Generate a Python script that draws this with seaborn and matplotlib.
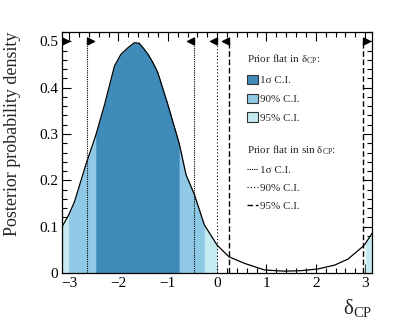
import numpy as np
import matplotlib
matplotlib.use("Agg")
import matplotlib.pyplot as plt
from matplotlib.lines import Line2D
from matplotlib.patches import Patch
from matplotlib.ticker import MultipleLocator, FuncFormatter
import seaborn as sns

# posterior curve (boundary points included)
dcp = [-3.1416, -3.01, -2.89, -2.66, -2.46, -2.28, -2.08, -1.95, -1.81, -1.68,
       -1.58, -1.50, -1.40, -1.30, -1.20, -1.00, -0.77, -0.63, -0.46, -0.26,
       0.00, 0.24, 0.55, 0.96, 1.36, 1.70, 2.04, 2.38, 2.65, 2.95, 3.00, 3.1416]
post = [0.100, 0.125, 0.154, 0.234, 0.297, 0.364, 0.447, 0.472, 0.486, 0.497,
        0.496, 0.486, 0.472, 0.454, 0.432, 0.364, 0.280, 0.212, 0.169, 0.104,
        0.060, 0.035, 0.021, 0.0065, 0.004, 0.005, 0.0087, 0.017, 0.030, 0.057,
        0.063, 0.086]

# credible intervals, prior flat in delta_CP
ci_1s = [(-2.46, -0.77)]
ci_90 = [(-3.01, -0.26)]
ci_95 = [(-3.1416, 0.00), (3.00, 3.1416)]

# credible intervals, prior flat in sin(delta_CP): lower / upper edges
sin_levels = ["1σ", "90%", "95%"]
sin_lo = [-2.63, -3.1416, 2.95]
sin_hi = [-0.46, 0.00, 0.24]

col_1s, col_90, col_95 = "#3f8bba", "#8fc9e6", "#c5ebf0"
sin_styles = [(0, (1, 1)), (0, (1, 2)), (0, (4, 2))]

sns.set_theme(style="ticks")
plt.rcParams["font.family"] = ["Liberation Serif", "DejaVu Serif"]
plt.rcParams["mathtext.fontset"] = "custom"
plt.rcParams["mathtext.rm"] = "Liberation Serif"
plt.rcParams["mathtext.it"] = "Liberation Serif:italic"

x = np.array(dcp)
y = np.array(post)

fig = plt.figure(figsize=(4.14, 3.21), dpi=100)
ax = fig.add_axes([0.150, 0.1495, 0.749, 0.7505])

for regions, c in [(ci_95, col_95), (ci_90, col_90), (ci_1s, col_1s)]:
    for lo, hi in regions:
        m = (x >= lo - 1e-9) & (x <= hi + 1e-9)
        ax.fill_between(x, 0, y, where=m, color=c, linewidth=0)

sns.lineplot(x=x, y=y, ax=ax, color="black", linewidth=0.9, sort=False)

right_tri = [(0, -1), (0, 1), (2, 0), (0, -1)]
left_tri = [(0, -1), (0, 1), (-2, 0), (0, -1)]
for lvl, lo, hi, ls in zip(sin_levels, sin_lo, sin_hi, sin_styles):
    lw = 1.0 if lvl == "95%" else 0.8
    ax.vlines([lo, hi], 0, 0.5, colors="black", linestyles=[ls], linewidth=lw)
    ax.plot([lo], [0.5], marker=right_tri, color="black", markersize=10,
            linestyle="none")
    ax.plot([hi], [0.5], marker=left_tri, color="black", markersize=10,
            linestyle="none")

ax.set_xlim(-np.pi, np.pi)
ax.set_ylim(0, 0.52)
ax.xaxis.set_major_locator(MultipleLocator(1))
ax.xaxis.set_minor_locator(MultipleLocator(0.2))
ax.yaxis.set_major_locator(MultipleLocator(0.1))
ax.yaxis.set_minor_locator(MultipleLocator(0.02))
ax.yaxis.set_major_formatter(FuncFormatter(lambda v, p: f"{v:g}"))
ax.xaxis.set_major_formatter(FuncFormatter(lambda v, p: f"{v:g}".replace("-", "\u2212")))
ax.tick_params(which="both", direction="in", top=True, right=True, colors="black",
               labelsize=11, width=0.8, pad=3)
ax.tick_params(which="major", length=6.5)
ax.tick_params(which="minor", length=3.4)
for s in ax.spines.values():
    s.set_linewidth(0.9)
    s.set_color("black")
ax.set_xlabel("")
ax.set_ylabel("")

fig.text(0.031, 0.90, "Posterior probability density", rotation=90,
         ha="center", va="top", fontsize=13)
fig.text(0.90, 0.022, "δ$_{\\mathrm{CP}}$", ha="right", va="baseline", fontsize=15)

h1 = [Patch(facecolor=c, edgecolor="#333333", linewidth=0.8, label=f"{l} C.I.")
      for c, l in zip([col_1s, col_90, col_95], sin_levels)]
leg1 = ax.legend(handles=h1, title="Prior flat in δ$_{\\mathrm{CP}}$:", loc="upper left",
                 bbox_to_anchor=(0.597, 0.835), bbox_transform=fig.transFigure,
                 frameon=False, fontsize=8, title_fontsize=8, alignment="left",
                 borderpad=0, borderaxespad=0, handlelength=0.95, handleheight=0.9,
                 handletextpad=0.25, labelspacing=0.75)
ax.add_artist(leg1)

h2 = [Line2D([], [], color="black", linestyle=ls, linewidth=1.0 if l == "95%" else 0.8,
             label=f"{l} C.I.") for l, ls in zip(sin_levels, sin_styles)]
ax.legend(handles=h2, title="Prior flat in sin δ$_{\\mathrm{CP}}$:", loc="upper left",
          bbox_to_anchor=(0.597, 0.553), bbox_transform=fig.transFigure,
          frameon=False, fontsize=8, title_fontsize=8, alignment="left",
          borderpad=0, borderaxespad=0, handlelength=0.95,
          handletextpad=0.25, labelspacing=0.75)

fig.savefig("out.png", dpi=100)
